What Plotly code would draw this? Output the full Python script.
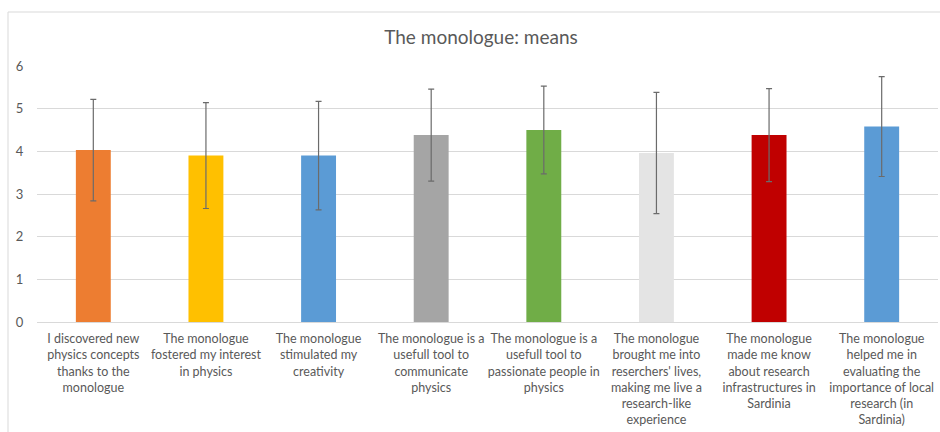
import plotly.graph_objects as go

categories = [
    "I discovered new<br>physics concepts<br>thanks to the<br>monologue",
    "The monologue<br>fostered my interest<br>in physics",
    "The monologue<br>stimulated my<br>creativity",
    "The monologue is a<br>usefull tool to<br>communicate<br>physics",
    "The monologue is a<br>usefull tool to<br>passionate people in<br>physics",
    "The monologue<br>brought me into<br>reserchers' lives,<br>making me live a<br>research-like<br>experience",
    "The monologue<br>made me know<br>about research<br>infrastructures in<br>Sardinia",
    "The monologue<br>helped me in<br>evaluating the<br>importance of local<br>research (in<br>Sardinia)",
]
means = [4.03, 3.90, 3.90, 4.38, 4.50, 3.96, 4.38, 4.58]
std_devs = [1.19, 1.24, 1.27, 1.08, 1.03, 1.42, 1.09, 1.17]
bar_colors = ["#ED7D31", "#FFC000", "#5B9BD5", "#A5A5A5", "#70AD47", "#E4E4E4", "#C00000", "#5B9BD5"]
y_ticks = [0, 1, 2, 3, 4, 5, 6]

font_family = "Lato, 'Open Sans', sans-serif"
text_color = "#595959"

fig = go.Figure()
fig.add_trace(go.Bar(
    x=list(range(len(categories))),
    y=means,
    marker=dict(color=bar_colors, line=dict(width=0)),
    error_y=dict(type="data", array=std_devs, visible=True,
                 color="#6b6b6b", thickness=1.2, width=3),
    hoverinfo="y",
))

fig.update_layout(
    width=940, height=432,
    margin=dict(l=37, r=2, t=66, b=110),
    paper_bgcolor="white", plot_bgcolor="white",
    bargap=0.69,
    showlegend=False,
    font=dict(family=font_family, color=text_color, size=12.5),
    title=dict(text="The monologue: means", x=481/940, xanchor="center",
               xref="container", y=1-37/432, yanchor="middle", yref="container",
               font=dict(size=19, color=text_color, family=font_family)),
    xaxis=dict(
        tickmode="array", tickvals=list(range(len(categories))), ticktext=categories,
        range=[-0.5, len(categories) - 0.5],
        showgrid=False, showline=True, linecolor="#D9D9D9", linewidth=1,
        ticks="outside", ticklen=5, tickcolor="rgba(0,0,0,0)",
        tickangle=0, tickfont=dict(size=12.5, color=text_color),
        automargin=False,
    ),
    yaxis=dict(
        range=[0, 6], tickmode="array", tickvals=y_ticks,
        showgrid=True, gridcolor="#D9D9D9", gridwidth=1,
        zeroline=True, zerolinecolor="#D9D9D9", zerolinewidth=1,
        showline=False,
        ticks="outside", ticklen=10, tickcolor="rgba(0,0,0,0)",
        tickfont=dict(size=13, color=text_color),
        automargin=False,
    ),
    shapes=[
        dict(type="line", xref="paper", yref="paper",
             x0=(8 - 37) / 901, x1=(8 - 37) / 901, y0=(322 - 12) / 256, y1=(322 - 440) / 256,
             line=dict(color="#D9D9D9", width=1)),
        dict(type="line", xref="paper", yref="paper",
             x0=(8 - 37) / 901, x1=(945 - 37) / 901, y0=(322 - 12) / 256, y1=(322 - 12) / 256,
             line=dict(color="#D9D9D9", width=1)),
    ],
)

fig.write_html("out.html", config={"displayModeBar": False},
               post_script="document.body.style.margin='0';document.body.style.overflow='hidden';")
